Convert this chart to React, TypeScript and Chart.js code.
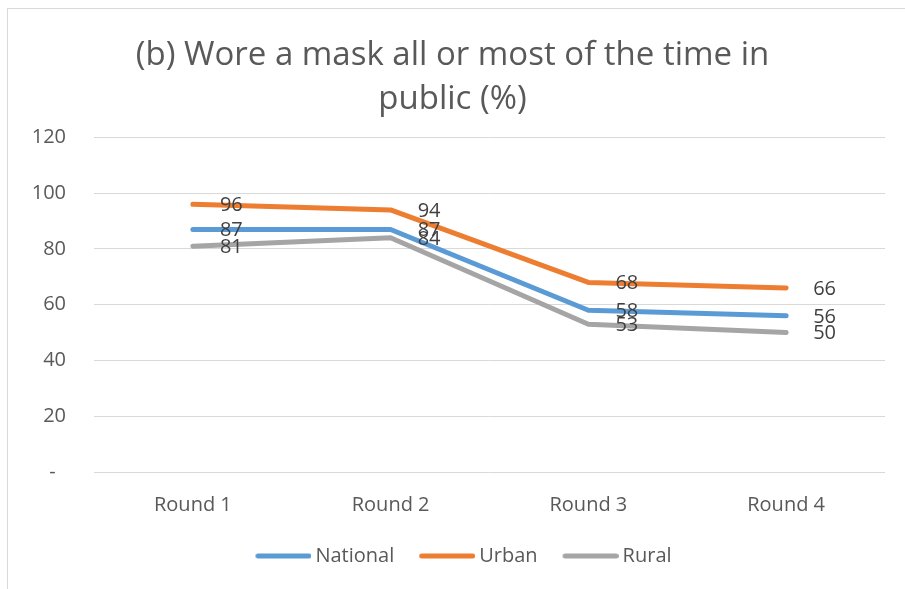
import { useEffect, useRef } from "react";
import { Chart, registerables } from "chart.js";

Chart.register(...registerables);

// Survey rounds and share of respondents (%) wearing a mask in public
const rounds = ["Round 1", "Round 2", "Round 3", "Round 4"];
const national = [87, 87, 58, 56];
const urban = [96, 94, 68, 66];
const rural = [81, 84, 53, 50];
const seriesNames = ["National", "Urban", "Rural"];
const titleLines = ["(b) Wore a mask all or most of the time in", "public (%)"];

const COLORS = ["#5B9BD5", "#ED7D31", "#A5A5A5"];
const FONT = "'Open Sans', 'DejaVu Sans', sans-serif";

// Legend swatch: a short rounded line, drawn into its own small canvas
function makeSwatch(color: string): HTMLCanvasElement {
  const c = document.createElement("canvas");
  c.width = 84;
  c.height = 8;
  const g = c.getContext("2d")!;
  g.strokeStyle = color;
  g.lineWidth = 5;
  g.lineCap = "round";
  g.beginPath();
  g.moveTo(28 + 2.5, 4);
  g.lineTo(84 - 2.5, 4);
  g.stroke();
  return c;
}

// Light frame around the whole chart
const framePlugin = {
  id: "frame",
  beforeDraw(chart: any) {
    const { ctx } = chart;
    ctx.save();
    ctx.strokeStyle = "#d9d9d9";
    ctx.lineWidth = 1;
    ctx.strokeRect(7.5, 8.5, chart.width + 10, chart.height + 10);
    ctx.restore();
  },
};

// Value labels placed to the right of each point
const valueLabelPlugin = {
  id: "valueLabels",
  afterDatasetsDraw(chart: any) {
    const { ctx } = chart;
    ctx.save();
    ctx.font = `20px ${FONT}`;
    ctx.fillStyle = "#404040";
    ctx.textAlign = "left";
    ctx.textBaseline = "middle";
    chart.data.datasets.forEach((ds: any, di: number) => {
      const meta = chart.getDatasetMeta(di);
      meta.data.forEach((pt: any, i: number) => {
        ctx.fillText(String(ds.data[i]), pt.x + 27, pt.y + 1);
      });
    });
    ctx.restore();
  },
};

export default function App() {
  const ref = useRef<HTMLCanvasElement | null>(null);

  useEffect(() => {
    document.body.style.margin = "0";
    const canvas = ref.current;
    if (!canvas) return;
    const values = [national, urban, rural];
    const swatches = COLORS.map(makeSwatch);

    const chart = new Chart(canvas, {
      type: "line",
      data: {
        labels: rounds,
        datasets: seriesNames.map((name, i) => ({
          label: name,
          data: values[i],
          borderColor: COLORS[i],
          backgroundColor: COLORS[i],
          borderWidth: 5,
          borderCapStyle: "round",
          borderJoinStyle: "round",
          pointRadius: 0,
          pointHoverRadius: 0,
          tension: 0,
          fill: false,
        })),
      },
      options: {
        responsive: false,
        animation: false,
        layout: { padding: { left: 20, right: 20, top: 0, bottom: 13 } },
        scales: {
          x: {
            offset: true,
            grid: { display: false, drawTicks: false, offset: true },
            border: { display: false },
            ticks: {
              color: "#595959",
              font: { family: FONT, size: 20 },
              padding: 21,
            },
            afterFit(scale: any) {
              scale.height = 71;
            },
          },
          y: {
            min: 0,
            max: 120,
            grid: { color: "#d9d9d9", lineWidth: 1, drawTicks: false },
            border: { display: false },
            ticks: {
              stepSize: 20,
              color: "#595959",
              font: { family: FONT, size: 20 },
              padding: 28,
              callback: (v: any) => (Number(v) === 0 ? "-  " : String(v)),
            },
            afterFit(scale: any) {
              scale.width = 74;
            },
          },
        },
        plugins: {
          title: {
            display: true,
            text: titleLines,
            color: "#595959",
            font: { family: FONT, size: 33, weight: "normal", lineHeight: 1.34 },
            padding: { top: 33, bottom: 16 },
          },
          legend: {
            position: "bottom",
            labels: {
              usePointStyle: true,
              pointStyleWidth: 72,
              padding: 3,
              color: "#595959",
              font: { family: FONT, size: 20 },
              generateLabels(c: any) {
                const items = Chart.defaults.plugins.legend.labels.generateLabels(c);
                return items.map((it: any, i: number) => ({
                  ...it,
                  pointStyle: swatches[i],
                }));
              },
            },
          },
          tooltip: { enabled: false },
        },
      },
      plugins: [framePlugin, valueLabelPlugin],
    } as any);

    return () => chart.destroy();
  }, []);

  return (
    <div style={{ width: 905, height: 589 }}>
      <canvas ref={ref} width={905} height={589} />
    </div>
  );
}
